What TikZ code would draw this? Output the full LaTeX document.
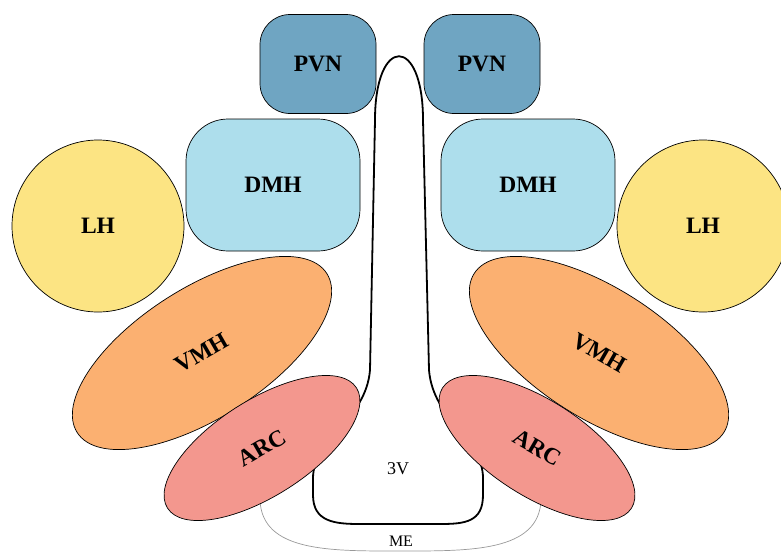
\documentclass[tikz,border=0pt]{standalone}
\usepackage{fontspec}
\setmainfont{Liberation Serif}
\usetikzlibrary{shapes.geometric}
\definecolor{pvnblue}{HTML}{6FA5C2}
\definecolor{dmhblue}{HTML}{ADDEEC}
\definecolor{lhyellow}{HTML}{FCE483}
\definecolor{vmhorange}{HTML}{FBB071}
\definecolor{arcsalmon}{HTML}{F3978E}
\begin{document}
\begin{tikzpicture}[x=1pt,y=-1pt,
  nucleus/.style={draw=black, line width=0.7pt, font=\fontsize{23.5}{26}\selectfont\bfseries, inner sep=0pt},
  nucleustext/.style={font=\fontsize{23.5}{26}\selectfont\bfseries, inner sep=1pt},
  pvnbox/.style={nucleus, rectangle, rounded corners=30pt, fill=pvnblue, minimum width=116pt, minimum height=99pt},
  dmhbox/.style={nucleus, rectangle, rounded corners=42pt, fill=dmhblue, minimum width=174pt, minimum height=132pt},
  lhdisk/.style={nucleus, circle, fill=lhyellow, minimum size=172pt},
  vmhoval/.style={nucleus, ellipse, fill=vmhorange, minimum width=296pt, minimum height=130pt},
  arcoval/.style={nucleus, ellipse, fill=arcsalmon, minimum width=224pt, minimum height=96pt},
  ventricle/.style={draw=black, line width=1.8pt},
  eminence/.style={draw=gray!80, line width=0.7pt}
]
\useasboundingbox (0,0) rectangle (781,552);

% median eminence outline
\coordinate (meL) at (260,500);
\coordinate (meR) at (541,500);
\draw[eminence] (meL) .. controls (262,552) and (330,551) .. (400,551)
  .. controls (470,551) and (539,552) .. (meR);

% third ventricle outline
\coordinate (vTL) at (375,120);
\coordinate (vTR) at (423,120);
\draw[ventricle] (vTL) .. controls (375,35) and (423,35) .. (vTR)
  -- (429,370) .. controls (433,420) and (483,440) .. (483,478)
  -- (483,495) .. controls (483,522) and (465,524) .. (440,524)
  -- (360,524) .. controls (335,524) and (313,522) .. (313,495)
  -- (313,478) .. controls (313,440) and (366,420) .. (370,370) -- cycle;

% nuclei, left side
\node[pvnbox] (pvnL) at (318,64) {PVN};
\node[dmhbox] (dmhL) at (273,185) {DMH};
\node[lhdisk] (lhL) at (98,226) {LH};
\node[vmhoval, rotate=32.5] (vmhL) at (202,353) {};
\node[nucleustext, rotate=30] (vmhLt) at (vmhL.center) {VMH};
\node[arcoval, rotate=32.5] (arcL) at (262,448) {};
\node[nucleustext, rotate=30] (arcLt) at (arcL.center) {ARC};

% nuclei, right side
\node[pvnbox] (pvnR) at (482,64) {PVN};
\node[dmhbox] (dmhR) at (528,185) {DMH};
\node[lhdisk] (lhR) at (703,226) {LH};
\node[vmhoval, rotate=-32.5] (vmhR) at (599,353) {};
\node[nucleustext, rotate=-30] (vmhRt) at (vmhR.center) {VMH};
\node[arcoval, rotate=-32.5] (arcR) at (537,448) {};
\node[nucleustext, rotate=-30] (arcRt) at (arcR.center) {ARC};

% cavity labels
\node[font=\fontsize{18}{20}\selectfont] (v3) at (398,469) {3V};
\node[font=\fontsize{16}{18}\selectfont] (me) at (401,541) {ME};
\end{tikzpicture}
\end{document}
